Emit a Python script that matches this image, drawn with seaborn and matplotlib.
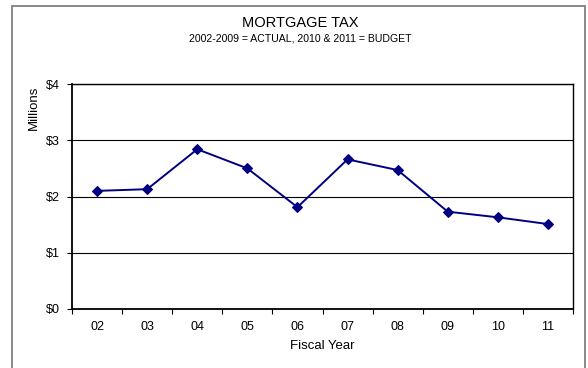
import matplotlib
matplotlib.use("Agg")
import matplotlib.pyplot as plt
from matplotlib.patches import Rectangle
from matplotlib.ticker import FixedLocator, FuncFormatter
import seaborn as sns
import pandas as pd

# Mortgage tax revenue by fiscal year, in millions of dollars
fiscal_years = ["02", "03", "04", "05", "06", "07", "08", "09", "10", "11"]
revenue_millions = [2.10, 2.13, 2.84, 2.50, 1.81, 2.66, 2.47, 1.73, 1.63, 1.51]
y_ticks = [0, 1, 2, 3, 4]

title_text = "MORTGAGE TAX"
subtitle_text = "2002-2009 = ACTUAL, 2010 & 2011 = BUDGET"
x_label = "Fiscal Year"
y_label = "Millions"

sns.set_theme(style="white")
plt.rcParams["font.family"] = ["Liberation Sans", "DejaVu Sans"]
plt.rcParams["text.color"] = "black"

df = pd.DataFrame({"year": fiscal_years, "revenue": revenue_millions})
df["pos"] = range(len(df))

W, H = 588, 368
fig = plt.figure(figsize=(W / 100, H / 100), dpi=100)
fig.patch.set_facecolor("white")

# plot area in pixel coordinates
left, right, top, bottom = 72, 573, 84, 309
ax = fig.add_axes([left / W, 1 - bottom / H, (right - left) / W, (bottom - top) / H])
ax.set_facecolor("white")

sns.lineplot(data=df, x="pos", y="revenue", ax=ax, color="#000080",
             linewidth=1.4, marker="D", markersize=5.5,
             markeredgecolor="#000080", markerfacecolor="#000080")

ax.set_xlim(-0.5, len(fiscal_years) - 0.5)
ax.set_ylim(0, 4)

# horizontal gridlines
ax.set_yticks(y_ticks)
ax.yaxis.set_major_formatter(FuncFormatter(lambda v, p: f"${v:.0f}"))
ax.grid(axis="y", color="black", linewidth=0.8)
ax.grid(axis="x", visible=False)

# category labels centred, tick marks between categories
ax.set_xticks(range(len(fiscal_years)))
ax.set_xticklabels(fiscal_years)
ax.xaxis.set_minor_locator(FixedLocator([i - 0.5 for i in range(len(fiscal_years) + 1)]))
ax.tick_params(axis="x", which="major", length=0, pad=9, labelsize=9, colors="black")
ax.tick_params(axis="x", which="minor", length=3.5, width=0.8, direction="out",
               bottom=True, color="black")
ax.tick_params(axis="y", which="major", length=3.5, width=0.8, direction="out",
               left=True, pad=5, labelsize=9, colors="black")

for side, sp in ax.spines.items():
    sp.set_visible(True)
    sp.set_color("black")
    sp.set_linewidth(1.0)
ax.spines["left"].set_linewidth(1.3)
ax.spines["bottom"].set_linewidth(1.3)

ax.set_xlabel("")
ax.set_ylabel("")

# titles and axis labels
fig.text(300 / W, 1 - 23 / H, title_text, ha="center", va="center", fontsize=10.5)
fig.text(300 / W, 1 - 38.5 / H, subtitle_text, ha="center", va="center", fontsize=7.6)
fig.text(322 / W, 1 - 346 / H, x_label, ha="center", va="center", fontsize=9.5)
fig.text(33.5 / W, 1 - 108 / H, y_label, ha="center", va="center", rotation=90, fontsize=9.5)

# chart area border
fig.add_artist(Rectangle((12 / W, -0.02), (585 - 12) / W, 1 - 6 / H + 0.02,
                         transform=fig.transFigure, fill=False,
                         edgecolor="#808080", linewidth=1.3))

fig.savefig("out.png", dpi=100, facecolor="white")
